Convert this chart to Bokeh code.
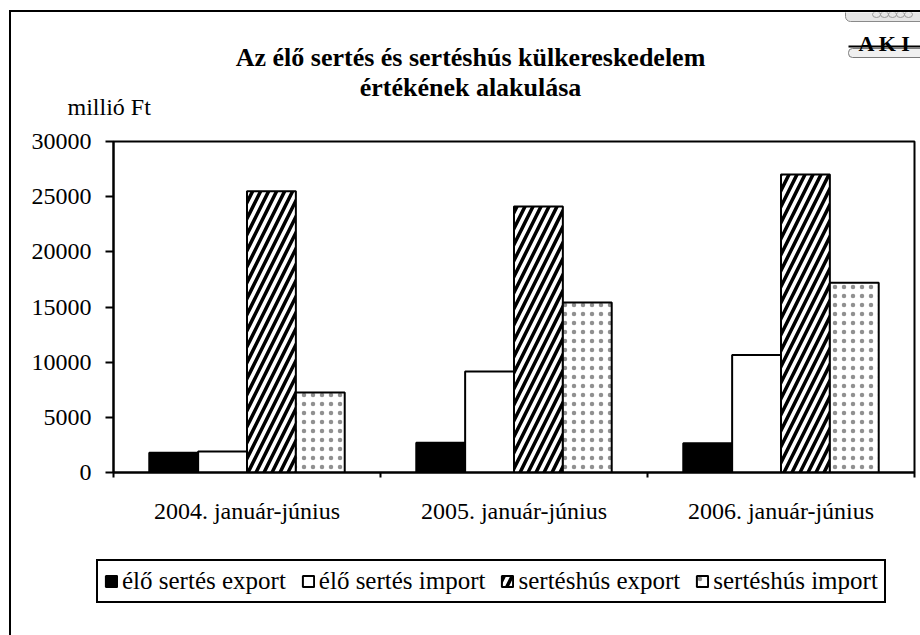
import numpy as np
from bokeh.plotting import figure
from bokeh.layouts import column
from bokeh.models import (Range1d, FixedTicker, LinearAxis, Legend, LegendItem, Label)
from bokeh.embed import file_html
from bokeh.resources import INLINE

# ---- data ----
categories = ["2004. január-június", "2005. január-június", "2006. január-június"]
series_names = ["élő sertés export", "élő sertés import", "sertéshús export", "sertéshús import"]
elo_export = [1800, 2700, 2650]
elo_import = [1900, 9150, 10650]
hus_export = [25500, 24100, 27000]
hus_import = [7250, 15400, 17200]
y_ticks = [0, 5000, 10000, 15000, 20000, 25000, 30000]
title_lines = ["Az élő sertés és sertéshús külkereskedelem", "értékének alakulása"]
unit_label = "millió Ft"
logo_text = "A K I"

FONT = "Liberation Serif"
FS = "24px"

# page geometry: chart frame border at x=9, y=10 (2px), content starts at (11, 12)
OX, OY = 11, 12
W = 920 - OX
Y_HEAD_END, Y_MAIN_END, Y_END = 120, 540, 635

series_styles = [
    dict(fill_color="black"),
    dict(fill_color="white"),
    dict(fill_color="white", hatch_pattern="right_diagonal_line", hatch_color="black",
         hatch_scale=16, hatch_weight=3.5),
    dict(fill_color="white", hatch_pattern="dot", hatch_color="#222222",
         hatch_scale=9, hatch_weight=1, hatch_alpha=0.5),
]


def blank_fig(y0, y1):
    f = figure(width=W, height=y1 - y0, output_backend="svg", toolbar_location=None,
               x_range=Range1d(OX, 920), y_range=Range1d(y1, y0),
               min_border_left=0, min_border_right=0, min_border_top=0, min_border_bottom=0,
               x_axis_type=None, y_axis_type=None)
    f.outline_line_color = None
    f.background_fill_color = "white"
    f.border_fill_color = "white"
    f.frame_align = False
    return f


# ---------------- header: title, unit, logo ----------------
h = blank_fig(OY, Y_HEAD_END)
h.add_layout(Label(x=470, y=57, text=title_lines[0], text_align="center",
                   text_baseline="alphabetic", text_font=FONT, text_font_size="26px",
                   text_font_style="bold", text_color="black"))
h.add_layout(Label(x=470, y=87, text=title_lines[1], text_align="center",
                   text_baseline="alphabetic", text_font=FONT, text_font_size="26px",
                   text_font_style="bold", text_color="black"))
h.add_layout(Label(x=67, y=106, text=unit_label, text_align="left",
                   text_baseline="alphabetic", text_font=FONT, text_font_size=FS,
                   text_color="black"))
# logo (decorative)
h.quad(left=[845], right=[925], top=[6], bottom=[21], fill_color="#e6e6e6",
       line_color="#8a8a8a", line_width=1, border_radius=5)
h.ellipse(x=[876, 884, 892, 900, 908], y=[14] * 5, width=8, height=6,
          fill_color=None, line_color="#9a9a9a", line_width=1)
h.segment(x0=[848], y0=[46], x1=[925], y1=[46], line_color="black", line_width=2)
h.quad(left=[848], right=[925], top=[48], bottom=[57], fill_color="#f0f0f0",
       line_color="#7a7a7a", line_width=1, border_radius=4)
h.add_layout(Label(x=858, y=43, text=logo_text, text_align="left",
                   text_baseline="alphabetic", text_font=FONT, text_font_size="22px",
                   text_font_style="bold", text_color="black"))

# ---------------- main chart ----------------
FRAME_L, FRAME_R, FRAME_T, FRAME_B = 113, 914, 141, 472
p = figure(width=W, height=Y_MAIN_END - Y_HEAD_END, output_backend="svg", toolbar_location=None,
           x_range=Range1d(0, len(categories)), y_range=Range1d(0, y_ticks[-1]),
           min_border_left=FRAME_L - OX, min_border_right=920 - FRAME_R,
           min_border_top=FRAME_T - Y_HEAD_END, min_border_bottom=Y_MAIN_END - FRAME_B,
           x_axis_type=None, y_axis_type=None)
p.outline_line_color = "black"
p.outline_line_width = 2
p.outline_line_alpha = 1
p.background_fill_color = "white"
p.border_fill_color = "white"
p.frame_align = False

centers = np.arange(len(categories)) + 0.5
bounds = np.arange(len(categories) + 1)

xaxis = LinearAxis(ticker=FixedTicker(ticks=list(centers), minor_ticks=list(bounds)),
                   major_label_overrides={float(c): lab for c, lab in zip(centers, categories)})
xaxis.axis_line_width = 2
xaxis.major_tick_line_color = None
xaxis.major_tick_out = 0
xaxis.major_tick_in = 0
xaxis.minor_tick_line_width = 2
xaxis.minor_tick_line_color = "black"
xaxis.minor_tick_out = 5
xaxis.minor_tick_in = 0
xaxis.major_label_standoff = 20
xaxis.major_label_text_font = FONT
xaxis.major_label_text_font_size = FS
xaxis.major_label_text_color = "black"
p.add_layout(xaxis, "below")

yaxis = LinearAxis(ticker=FixedTicker(ticks=y_ticks, minor_ticks=[]))
yaxis.axis_line_width = 2
yaxis.major_tick_line_width = 2
yaxis.major_tick_out = 8
yaxis.major_tick_in = 0
yaxis.minor_tick_line_color = None
yaxis.major_label_standoff = 14
yaxis.major_label_text_font = FONT
yaxis.major_label_text_font_size = FS
yaxis.major_label_text_color = "black"
yaxis.formatter.use_scientific = False
p.add_layout(yaxis, "left")

values = [elo_export, elo_import, hus_export, hus_import]
bw = 0.183
offsets = (np.arange(len(values)) - (len(values) - 1) / 2) * bw
for vals, st, off in zip(values, series_styles, offsets):
    p.vbar(x=centers + off, top=vals, bottom=0, width=bw,
           line_color="black", line_width=2, **st)

# ---------------- legend strip ----------------
lg = blank_fig(Y_MAIN_END, Y_END)
items = []
for st, name in zip(series_styles, series_names):
    r = lg.vbar(x=[np.nan], top=[np.nan], bottom=0, width=1, line_color="black",
                line_width=2, **st)
    items.append(LegendItem(label=name, renderers=[r]))
legend = Legend(items=items, orientation="horizontal", location=(96 - OX, Y_END - 603),
                border_line_color="black", border_line_width=2, border_line_alpha=1,
                label_text_font=FONT, label_text_font_size="25px", label_text_color="black",
                glyph_width=14, glyph_height=14, label_standoff=4, spacing=15,
                padding=6, margin=0, background_fill_color="white", background_fill_alpha=1)
lg.add_layout(legend)

layout = column(h, p, lg, spacing=0, margin=(10, 0, 0, 9),
                styles={"border-left": "2px solid black", "border-top": "2px solid black"})

open("out.html", "w").write(file_html(layout, INLINE))
